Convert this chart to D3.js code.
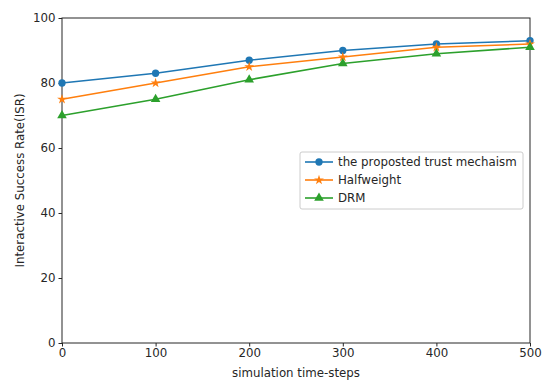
<!DOCTYPE html>
<html>
<head>
<meta charset="UTF-8" />
<script src="https://d3js.org/d3.v7.min.js"></script>
<style>
  body { margin: 0; background: #fff; }
  text { font-family: "DejaVu Sans", sans-serif; }
</style>
</head>
<body>
<script>
  // data
  const steps = [0, 100, 200, 300, 400, 500];
  const proposed = [80, 83, 87, 90, 92, 93];
  const halfweight = [75, 80, 85, 88, 91, 92];
  const drm = [70, 75, 81, 86, 89, 91];
  const xTicks = [0, 100, 200, 300, 400, 500];
  const yTicks = [0, 20, 40, 60, 80, 100];

  const series = [
    { name: "the proposted trust mechaism", values: proposed, color: "#1f77b4", marker: "circle" },
    { name: "Halfweight", values: halfweight, color: "#ff7f0e", marker: "star" },
    { name: "DRM", values: drm, color: "#2ca02c", marker: "triangle" }
  ];

  const width = 550, height = 387;
  const margin = { top: 18, right: 20, bottom: 44, left: 62 };
  const fs = 11.8;

  const svg = d3.select("body").append("svg")
    .attr("width", width)
    .attr("height", height);

  const x = d3.scaleLinear().domain([0, 500]).range([margin.left, width - margin.right]);
  const y = d3.scaleLinear().domain([0, 100]).range([height - margin.bottom, margin.top]);

  // axes
  const xAxis = svg.append("g")
    .attr("transform", `translate(0,${height - margin.bottom})`)
    .call(d3.axisBottom(x).tickValues(xTicks).tickSize(3.5).tickPadding(2));
  const yAxis = svg.append("g")
    .attr("transform", `translate(${margin.left},0)`)
    .call(d3.axisLeft(y).tickValues(yTicks).tickSize(3.5).tickPadding(3));
  [xAxis, yAxis].forEach(function (g) {
    g.select(".domain").remove();
    g.selectAll("text").attr("font-size", fs).attr("fill", "#262626")
      .style("font-family", "DejaVu Sans, sans-serif");
    g.selectAll("line").attr("stroke", "#262626");
  });

  // frame
  svg.append("rect")
    .attr("x", margin.left)
    .attr("y", margin.top)
    .attr("width", width - margin.right - margin.left)
    .attr("height", height - margin.bottom - margin.top)
    .attr("fill", "none")
    .attr("stroke", "#262626")
    .attr("stroke-width", 1);

  const symbols = {
    circle: d3.symbol().type(d3.symbolCircle).size(42),
    star: d3.symbol().type(d3.symbolStar).size(30),
    triangle: d3.symbol().type(d3.symbolTriangle).size(40)
  };

  const line = d3.line()
    .x(function (d, i) { return x(steps[i]); })
    .y(function (d) { return y(d); });

  const plot = svg.append("g");
  series.forEach(function (s) {
    plot.append("path")
      .datum(s.values)
      .attr("fill", "none")
      .attr("stroke", s.color)
      .attr("stroke-width", 1.6)
      .attr("d", line);
    plot.selectAll(null)
      .data(s.values)
      .join("path")
      .attr("transform", function (d, i) { return `translate(${x(steps[i])},${y(d)})`; })
      .attr("d", symbols[s.marker])
      .attr("fill", s.color);
  });

  // axis labels
  svg.append("text")
    .attr("x", (margin.left + width - margin.right) / 2)
    .attr("y", 377)
    .attr("text-anchor", "middle")
    .attr("font-size", fs)
    .attr("fill", "#262626")
    .text("simulation time-steps");

  svg.append("text")
    .attr("transform", `translate(24,${(margin.top + height - margin.bottom) / 2}) rotate(-90)`)
    .attr("text-anchor", "middle")
    .attr("font-size", fs)
    .attr("fill", "#262626")
    .text("Interactive Success Rate(ISR)");

  // legend
  const lg = svg.append("g").attr("transform", "translate(300,152)");
  lg.append("rect")
    .attr("width", 223)
    .attr("height", 57)
    .attr("rx", 2)
    .attr("fill", "#fff")
    .attr("fill-opacity", 0.8)
    .attr("stroke", "#cccccc");
  series.forEach(function (s, i) {
    const yy = 10 + i * 18;
    lg.append("line")
      .attr("x1", 5).attr("x2", 33)
      .attr("y1", yy).attr("y2", yy)
      .attr("stroke", s.color)
      .attr("stroke-width", 1.6);
    lg.append("path")
      .attr("transform", `translate(19,${yy})`)
      .attr("d", symbols[s.marker])
      .attr("fill", s.color);
    lg.append("text")
      .attr("x", 38)
      .attr("y", yy + 4)
      .attr("font-size", fs)
      .attr("fill", "#262626")
      .text(s.name);
  });
</script>
</body>
</html>
